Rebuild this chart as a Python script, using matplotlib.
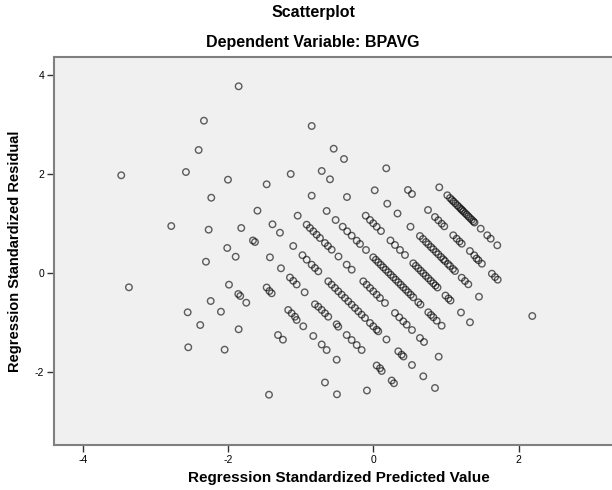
import matplotlib
matplotlib.use("Agg")
import matplotlib.pyplot as plt

plt.rcParams['font.family'] = ['Liberation Sans', 'DejaVu Sans']
plt.rcParams['axes.unicode_minus'] = False

# Standardized predicted value (x) / standardized residual (y)
pred_a = [0.906, 1.017, 1.054, 1.081, 1.102, 1.127, 1.154, 1.178, 1.201, 1.219, 1.237, 1.260, 1.284, 1.306,
          1.329, 1.353, 1.375, 1.391, 1.477, 1.567, 1.614, 1.705]
resid_a = [1.731, 1.570, 1.515, 1.475, 1.444, 1.408, 1.368, 1.333, 1.299, 1.273, 1.246, 1.212, 1.178, 1.145,
           1.111, 1.077, 1.044, 1.020, 0.895, 0.762, 0.693, 0.560]

pred_b = [0.176, 0.475, 0.530, 0.751, 0.847, 0.893, 0.940, 0.975, 1.099, 1.146, 1.185, 1.215, 1.328, 1.388,
          1.419, 1.446, 1.493, 1.631, 1.674, 1.711]
resid_b = [2.115, 1.677, 1.596, 1.273, 1.131, 1.065, 0.996, 0.943, 0.762, 0.693, 0.636, 0.592, 0.444, 0.358,
           0.293, 0.257, 0.188, -0.014, -0.081, -0.135]

pred_c = [-0.851, -0.548, -0.406, 0.017, 0.190, 0.331, 0.510, 0.640, 0.682, 0.723, 0.755, 0.792, 0.824, 0.861,
          0.893, 0.930, 0.961, 0.985, 1.026, 1.054, 1.095, 1.122, 1.215, 1.260, 1.306, 1.453]
resid_c = [2.970, 2.511, 2.303, 1.671, 1.400, 1.202, 0.935, 0.747, 0.687, 0.626, 0.580, 0.525, 0.479, 0.424,
           0.378, 0.323, 0.277, 0.242, 0.182, 0.141, 0.081, 0.040, -0.095, -0.162, -0.228, -0.479]

pred_d = [-1.857, -0.713, -0.599, -0.365, -0.107, -0.048, -0.003, 0.044, 0.103, 0.234, 0.296, 0.365, 0.434,
          0.548, 0.583, 0.617, 0.652, 0.686, 0.720, 0.755, 0.789, 0.824, 0.854, 0.882, 0.992, 1.033, 1.061,
          1.205, 1.329]
resid_d = [3.772, 2.061, 1.893, 1.535, 1.158, 1.071, 1.004, 0.935, 0.848, 0.657, 0.566, 0.465, 0.364,
           0.196, 0.145, 0.095, 0.044, -0.006, -0.057, -0.107, -0.158, -0.208, -0.253, -0.293, -0.455, -0.515,
           -0.556, -0.798, -0.996]

pred_e = [-1.140, -0.851, -0.645, -0.521, -0.424, -0.362, -0.300, -0.231, -0.186, -0.103, -0.003, 0.032,
          0.066, 0.101, 0.135, 0.169, 0.204, 0.238, 0.273, 0.307, 0.342, 0.376, 0.410, 0.445, 0.479, 0.514,
          0.548, 0.617, 0.647, 0.755, 0.792, 0.824, 0.871, 0.939]
resid_e = [2.000, 1.562, 1.253, 1.071, 0.935, 0.842, 0.754, 0.653, 0.586, 0.465, 0.317, 0.267,
           0.216, 0.166, 0.115, 0.065, 0.014, -0.036, -0.087, -0.137, -0.188, -0.238, -0.289, -0.339, -0.390,
           -0.440, -0.491, -0.592, -0.636, -0.794, -0.848, -0.895, -0.964, -1.065]

pred_f = [-2.335, -1.471, -1.044, -0.920, -0.875, -0.829, -0.783, -0.737, -0.669, -0.627, -0.576, -0.482,
          -0.369, -0.300, -0.140, -0.094, -0.048, -0.003, 0.044, 0.089, 0.158, 0.296, 0.355, 0.410, 0.457,
          0.530, 0.640, 0.696, 0.898]
resid_f = [3.077, 1.792, 1.158, 0.976, 0.909, 0.842, 0.774, 0.707, 0.606, 0.545, 0.471, 0.333,
           0.168, 0.067, -0.168, -0.236, -0.303, -0.370, -0.438, -0.505, -0.606, -0.808, -0.895, -0.976,
           -1.044, -1.152, -1.313, -1.394, -1.691]

pred_g = [-2.408, -2.004, -1.598, -1.391, -1.288, -1.105, -0.978, -0.920, -0.851, -0.806, -0.760, -0.622,
          -0.576, -0.530, -0.485, -0.438, -0.393, -0.347, -0.300, -0.255, -0.209, -0.163, -0.117, -0.048,
          -0.003, 0.044, 0.066, 0.179, 0.342, 0.388, 0.413, 0.530, 0.686, 0.847]
resid_g = [2.485, 1.885, 1.259, 0.984, 0.814, 0.545, 0.360, 0.269, 0.168, 0.101, 0.034, -0.168,
           -0.236, -0.303, -0.370, -0.438, -0.505, -0.572, -0.640, -0.707, -0.774, -0.842, -0.909, -1.010,
           -1.077, -1.145, -1.178, -1.343, -1.582, -1.650, -1.687, -1.859, -2.087, -2.323]

pred_h = [-2.583, -2.234, -1.821, -1.660, -1.632, -1.426, -1.274, -1.150, -1.105, -1.058, -0.948, -0.806,
          -0.760, -0.713, -0.668, -0.623, -0.507, -0.485, -0.369, -0.300, -0.231, -0.163, 0.044, 0.090,
          0.113, 0.251, 0.282]
resid_h = [2.040, 1.521, 0.909, 0.657, 0.626, 0.317, 0.095, -0.091, -0.158, -0.232, -0.390, -0.632,
           -0.681, -0.747, -0.814, -0.883, -1.036, -1.085, -1.253, -1.354, -1.455, -1.556, -1.869, -1.925,
           -1.980, -2.172, -2.228]

pred_i = [-2.270, -2.014, -1.898, -1.471, -1.433, -1.402, -1.174, -1.127, -1.081, -1.058, -0.967, -0.829,
          -0.713, -0.645, -0.507, -0.090]
resid_i = [0.875, 0.505, 0.329, -0.293, -0.364, -0.410, -0.747, -0.814, -0.883, -0.949, -1.077, -1.273,
           -1.444, -1.556, -1.752, -2.374]

pred_j = [-3.474, -2.785, -2.307, -1.990, -1.862, -1.835, -1.752, -1.315, -1.247, -0.668, -0.503]
resid_j = [1.974, 0.949, 0.228, -0.236, -0.424, -0.465, -0.600, -1.253, -1.347, -2.212, -2.451]

# lower-left stragglers and the lone point on the right
pred_k = [-2.242, -2.101, -1.857, -2.559, -2.386, -2.050, -1.439, -3.368, -2.551, 2.187]
resid_k = [-0.566, -0.782, -1.137, -0.794, -1.051, -1.549, -2.459, -0.289, -1.501, -0.869]

pred = pred_a + pred_b + pred_c + pred_d + pred_e + pred_f + pred_g + pred_h + pred_i + pred_j + pred_k
resid = resid_a + resid_b + resid_c + resid_d + resid_e + resid_f + resid_g + resid_h + resid_i + resid_j + resid_k

x_ticks = [-4, -2, 0, 2]
y_ticks = [-2, 0, 2, 4]

W, H = 612, 490
fig = plt.figure(figsize=(W / 100, H / 100), dpi=100)
ax = fig.add_axes([54 / W, 1 - 445 / H, (W - 54) / W, (445 - 57) / H])
ax.set_facecolor('#f0f0f0')

ax.scatter(pred, resid, s=22, facecolors='none', edgecolors='black', linewidths=1.0, alpha=0.62)

ax.set_xlim(-4.40, 3.285)
ax.set_ylim(-3.475, 4.364)
ax.set_xticks(x_ticks)
ax.set_yticks(y_ticks)
ax.tick_params(direction='out', length=5, width=1, color='#333333', labelsize=7.5, pad=2)

for side in ['left', 'bottom', 'top']:
    ax.spines[side].set_color('#808080')
    ax.spines[side].set_linewidth(1.5)
ax.spines['right'].set_visible(False)

fig.text(313 / W, 1 - 13 / H, 'Scatterplot', ha='center', va='center', fontsize=11.5, weight='bold')
fig.text(313 / W, 1 - 43 / H, 'Dependent Variable: BPAVG', ha='center', va='center', fontsize=11.5,
         weight='bold')
fig.text(339 / W, 1 - 478 / H, 'Regression Standardized Predicted Value', ha='center', va='center',
         fontsize=11, weight='bold')
fig.text(15 / W, 1 - 251 / H, 'Regression Standardized Residual', ha='center', va='center',
         rotation=90, fontsize=10.5, weight='bold')

fig.savefig('out.png', dpi=100)
